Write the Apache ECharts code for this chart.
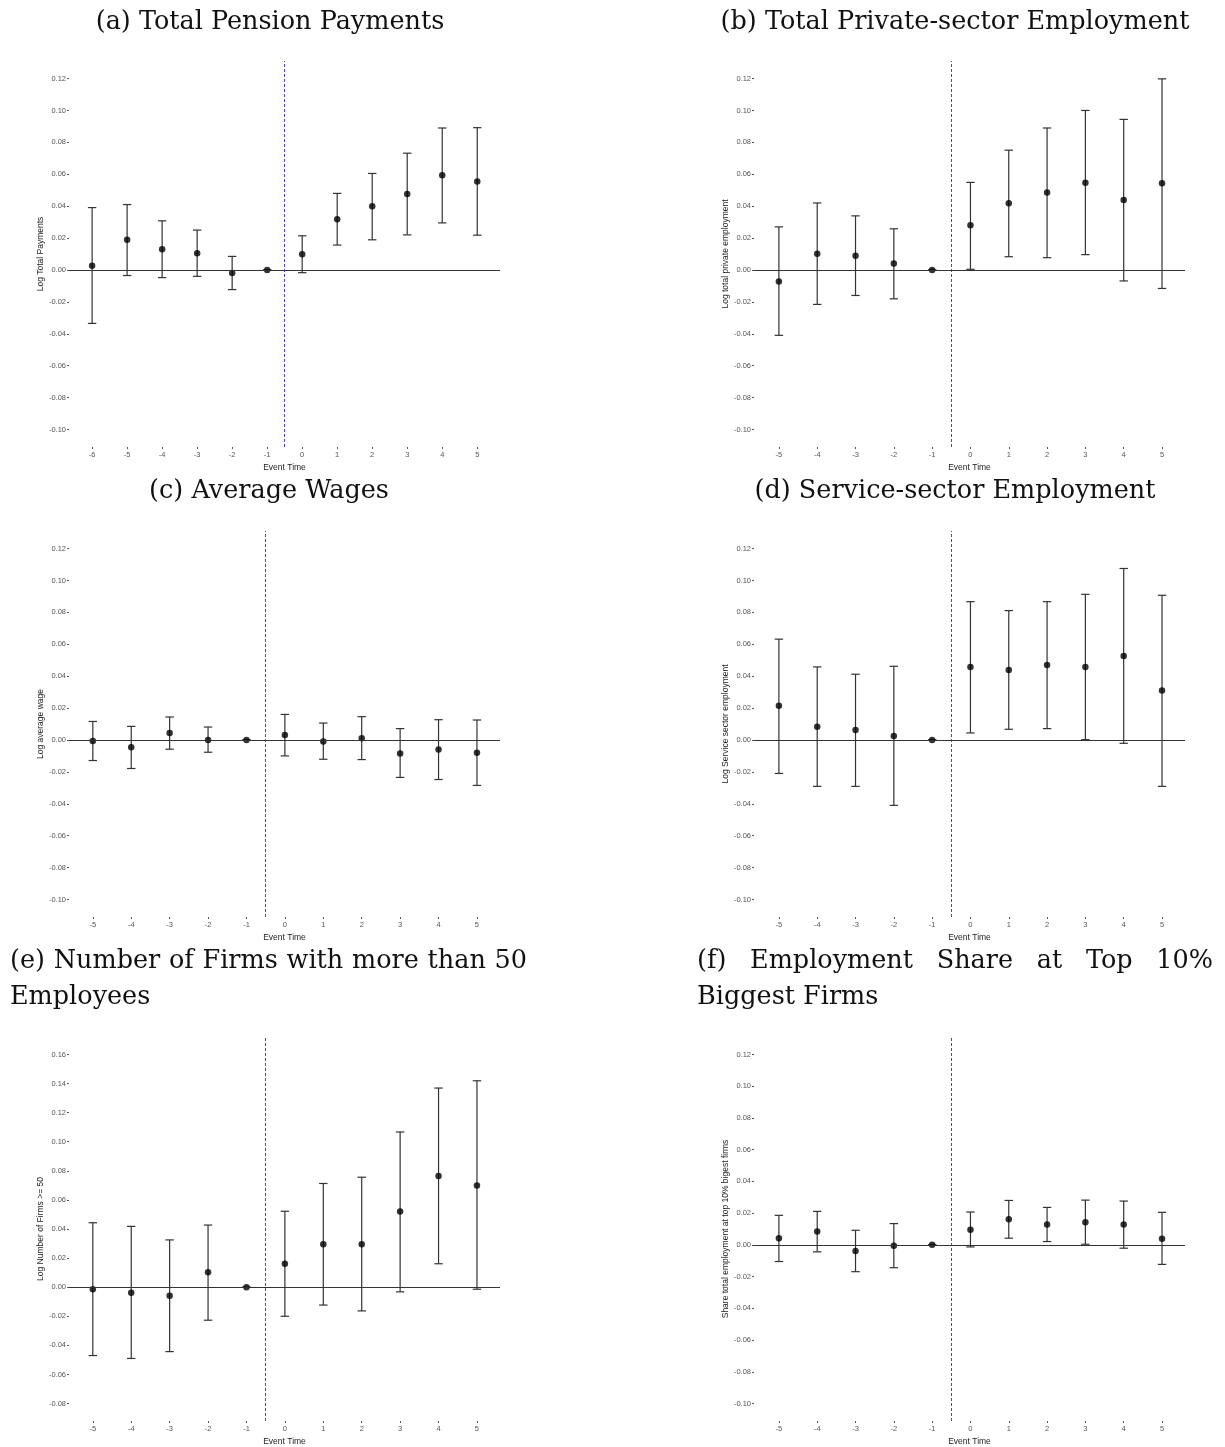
<!DOCTYPE html>
<html><head><meta charset="utf-8">
<script src="https://cdn.jsdelivr.net/npm/echarts@6/dist/echarts.min.js"></script>
<style>html,body{margin:0;padding:0;background:#fff}#c{width:1225px;height:1447px}</style>
</head><body><div id="c"></div>
<script>
// ---------- data ----------
const eventTimeA = [-6,-5,-4,-3,-2,-1,0,1,2,3,4,5];
const eventTime  = [-5,-4,-3,-2,-1,0,1,2,3,4,5];

const pensionCoef = [0.0027,0.0189,0.0129,0.0104,-0.0019,0,0.0098,0.0318,0.0399,0.0476,0.0593,0.0555];
const pensionLow  = [-0.0335,-0.0035,-0.0048,-0.0040,-0.0123,0,-0.0017,0.0156,0.0189,0.0220,0.0295,0.0218];
const pensionHigh = [0.0391,0.0410,0.0308,0.0250,0.0085,0,0.0214,0.0480,0.0605,0.0732,0.0890,0.0892];

const privCoef = [-0.0073,0.0102,0.0089,0.0040,0,0.0281,0.0418,0.0485,0.0547,0.0439,0.0543];
const privLow  = [-0.0410,-0.0216,-0.0160,-0.0181,0,0.0004,0.0083,0.0077,0.0096,-0.0069,-0.0116];
const privHigh = [0.0270,0.0420,0.0339,0.0258,0,0.0549,0.0751,0.0890,0.1000,0.0944,0.1198];

const wageCoef = [-0.0006,-0.0046,0.0044,0.0000,0,0.0031,-0.0010,0.0010,-0.0085,-0.0060,-0.0081];
const wageLow  = [-0.0129,-0.0179,-0.0058,-0.0077,0,-0.0100,-0.0121,-0.0123,-0.0235,-0.0248,-0.0285];
const wageHigh = [0.0116,0.0085,0.0144,0.0081,0,0.0160,0.0106,0.0146,0.0071,0.0127,0.0125];

const servCoef = [0.0214,0.0083,0.0062,0.0025,0,0.0458,0.0439,0.0470,0.0458,0.0526,0.0310];
const servLow  = [-0.0210,-0.0291,-0.0291,-0.0410,0,0.0044,0.0067,0.0071,0.0002,-0.0021,-0.0291];
const servHigh = [0.0632,0.0458,0.0412,0.0462,0,0.0867,0.0811,0.0867,0.0913,0.1075,0.0907];

const firmsCoef = [-0.0014,-0.0039,-0.0059,0.0102,0,0.0161,0.0295,0.0295,0.0520,0.0765,0.0699];
const firmsLow  = [-0.0470,-0.0490,-0.0443,-0.0227,0,-0.0200,-0.0123,-0.0163,-0.0032,0.0161,-0.0014];
const firmsHigh = [0.0443,0.0418,0.0325,0.0427,0,0.0522,0.0713,0.0756,0.1067,0.1369,0.1419];

const shareCoef = [0.0042,0.0084,-0.0038,-0.0006,0,0.0096,0.0161,0.0128,0.0142,0.0128,0.0038];
const shareLow  = [-0.0105,-0.0044,-0.0169,-0.0144,0,-0.0013,0.0042,0.0021,0.0004,-0.0021,-0.0123];
const shareHigh = [0.0186,0.0211,0.0092,0.0134,0,0.0207,0.0280,0.0236,0.0282,0.0276,0.0205];

const yTicksStd   = [-0.10,-0.08,-0.06,-0.04,-0.02,0,0.02,0.04,0.06,0.08,0.10,0.12];
const yTicksFirms = [-0.08,-0.06,-0.04,-0.02,0,0.02,0.04,0.06,0.08,0.10,0.12,0.14,0.16];

const panelTitles = [
  '(a) Total Pension Payments',
  '(b) Total Private-sector Employment',
  '(c) Average Wages',
  '(d) Service-sector Employment',
  '(e) Number of Firms with more than 50 Employees',
  '(f) Employment Share at Top 10% Biggest Firms'
];
const yTitles = [
  'Log Total Payments',
  'Log total private employment',
  'Log average wage',
  'Log Service sector employment',
  'Log Number of Firms >= 50',
  'Share total employment at top 10% bigest firms'
];
const xTitle = 'Event Time';

// ---------- layout ----------
const panels = [
  {x: eventTimeA, c: pensionCoef, lo: pensionLow, hi: pensionHigh, ticks: yTicksStd, ymin:-0.111, ymax:0.131, xmin:-6.66, xmax:5.65, left:69, top:61, h:386},
  {x: eventTime, c: privCoef, lo: privLow, hi: privHigh, ticks: yTicksStd, ymin:-0.111, ymax:0.131, xmin:-5.65, xmax:5.6, left:754, top:61, h:386},
  {x: eventTime, c: wageCoef, lo: wageLow, hi: wageHigh, ticks: yTicksStd, ymin:-0.111, ymax:0.131, xmin:-5.62, xmax:5.6, left:69, top:531, h:386},
  {x: eventTime, c: servCoef, lo: servLow, hi: servHigh, ticks: yTicksStd, ymin:-0.111, ymax:0.131, xmin:-5.65, xmax:5.6, left:754, top:531, h:386},
  {x: eventTime, c: firmsCoef, lo: firmsLow, hi: firmsHigh, ticks: yTicksFirms, ymin:-0.092, ymax:0.172, xmin:-5.62, xmax:5.6, left:69, top:1037, h:387},
  {x: eventTime, c: shareCoef, lo: shareLow, hi: shareHigh, ticks: yTicksStd, ymin:-0.111, ymax:0.131, xmin:-5.65, xmax:5.6, left:754, top:1037, h:387}
];

const sans = 'Liberation Sans, Arial, sans-serif';
const serifFont = 'DejaVu Serif';
const titleSize = 25.5;
const tickColor = '#555';

function renderErr(params, api) {
  const x = api.value(0), lo = api.value(1), hi = api.value(2);
  const pHi = api.coord([x, hi]), pLo = api.coord([x, lo]);
  const hw = 4.2;
  const style = {stroke: '#333', lineWidth: 1.2, fill: null};
  return {type: 'group', children: [
    {type: 'line', shape: {x1: pHi[0], y1: pHi[1], x2: pLo[0], y2: pLo[1]}, style: style},
    {type: 'line', shape: {x1: pHi[0]-hw, y1: pHi[1], x2: pHi[0]+hw, y2: pHi[1]}, style: style},
    {type: 'line', shape: {x1: pLo[0]-hw, y1: pLo[1], x2: pLo[0]+hw, y2: pLo[1]}, style: style}
  ]};
}

const grid = [], xAxis = [], yAxis = [], series = [];
panels.forEach((p, i) => {
  grid.push({left: p.left, top: p.top, width: 431, height: p.h});
  xAxis.push({
    type: 'value', gridIndex: i, min: p.xmin, max: p.xmax, position: 'bottom',
    axisLine: {show: false, onZero: false}, splitLine: {show: false},
    axisTick: {show: true, length: 2, customValues: p.x, lineStyle: {color: tickColor, width: 1}},
    axisLabel: {customValues: p.x, fontSize: 7.5, color: tickColor, margin: 4, fontFamily: sans},
    name: xTitle, nameLocation: 'middle', nameGap: 16,
    nameTextStyle: {fontSize: 8.5, color: '#222', fontFamily: sans}
  });
  yAxis.push({
    type: 'value', gridIndex: i, min: p.ymin, max: p.ymax, position: 'left',
    axisLine: {show: false, onZero: false}, splitLine: {show: false},
    axisTick: {show: true, length: 2, customValues: p.ticks, lineStyle: {color: tickColor, width: 1}},
    axisLabel: {customValues: p.ticks, fontSize: 7.5, color: tickColor, margin: 3, fontFamily: sans,
                formatter: v => Number(v).toFixed(2)},
    name: yTitles[i], nameLocation: 'middle', nameGap: 24, nameRotate: 90,
    nameTextStyle: {fontSize: 8.5, color: '#222', fontFamily: sans}
  });
  series.push({
    type: 'custom', xAxisIndex: i, yAxisIndex: i, renderItem: renderErr,
    encode: {x: 0, y: [1, 2]},
    data: p.x.map((t, k) => [t, p.lo[k], p.hi[k]]),
    z: 3, silent: true, animation: false,
    markLine: {
      silent: true, symbol: 'none', animation: false, label: {show: false},
      data: [
        {yAxis: 0, lineStyle: {color: '#333', type: 'solid', width: 1}},
        {xAxis: -0.5, lineStyle: {color: '#2a2aff', type: [3, 2], width: 0.9}}
      ]
    }
  });
  series.push({
    type: 'scatter', xAxisIndex: i, yAxisIndex: i, symbol: 'circle', symbolSize: 6.5,
    itemStyle: {color: '#000'}, z: 4, silent: true, animation: false,
    data: p.x.map((t, k) => [t, p.c[k]])
  });
});

// ---------- titles ----------
const ctx = document.createElement('canvas').getContext('2d');
const fontStr = titleSize + 'px "' + serifFont + '"';
ctx.font = fontStr;
const graphic = [];
function centeredTitle(text, cx, cy) {
  graphic.push({type: 'text', x: cx, y: cy, silent: true,
    style: {text: text, font: fontStr, fill: '#111', textAlign: 'center', textVerticalAlign: 'middle'}});
}
function justifiedLine(words, x0, x1, cy) {
  const widths = words.map(w => ctx.measureText(w).width);
  const total = widths.reduce((a, b) => a + b, 0);
  const gap = (x1 - x0 - total) / (words.length - 1);
  let x = x0;
  words.forEach((w, k) => {
    graphic.push({type: 'text', x: x, y: cy, silent: true,
      style: {text: w, font: fontStr, fill: '#111', textAlign: 'left', textVerticalAlign: 'middle'}});
    x += widths[k] + gap;
  });
}
function leftLine(text, x0, cy) {
  graphic.push({type: 'text', x: x0, y: cy, silent: true,
    style: {text: text, font: fontStr, fill: '#111', textAlign: 'left', textVerticalAlign: 'middle'}});
}
centeredTitle(panelTitles[0], 270, 22.5);
centeredTitle(panelTitles[1], 955, 22.5);
centeredTitle(panelTitles[2], 269, 491.5);
centeredTitle(panelTitles[3], 955, 491.5);
const eWords = panelTitles[4].split(' ');
justifiedLine(eWords.slice(0, 8), 10, 527, 961);
leftLine(eWords.slice(8).join(' '), 10, 997);
const fWords = panelTitles[5].split(' ');
justifiedLine(fWords.slice(0, 6), 697, 1213, 961);
leftLine(fWords.slice(6).join(' '), 697, 997);

const chart = echarts.init(document.getElementById('c'), null, {renderer: 'canvas'});
chart.setOption({
  animation: false,
  backgroundColor: '#fff',
  grid: grid, xAxis: xAxis, yAxis: yAxis, series: series,
  graphic: graphic
});
</script>
</body></html>
